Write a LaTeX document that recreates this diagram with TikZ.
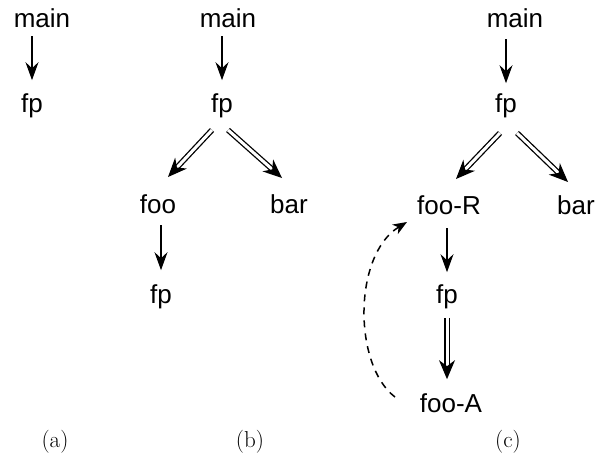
\documentclass[tikz,border=0pt]{standalone}
\usepackage{fontspec}
\newfontfamily\hv{Liberation Sans}
\usetikzlibrary{arrows.meta,calc}
\begin{document}
\begin{tikzpicture}[x=1pt,y=-1pt,
  lbl/.style={font=\hv\fontsize{26}{30}\selectfont, inner sep=0pt, outer sep=0pt, anchor=base},
  sublbl/.style={font=\fontsize{23}{27}\selectfont, inner sep=0pt, anchor=base},
  arr/.style={line width=1.5pt, -{Stealth[length=18pt,width=13pt,inset=6pt]}},
  darr/.style={double, double distance=3pt, line width=1.3pt, -{Stealth[length=19pt,width=16pt,inset=6pt]}},
  back/.style={line width=1.5pt, dash pattern=on 7pt off 6pt, -{Stealth[length=14pt,width=11pt,inset=4pt]}}]
\useasboundingbox (0,0) rectangle (604,458);
% (a)
\node[lbl] (a_main) at (42,27) {main};
\node[lbl] (a_fp) at (32,112) {fp};
% (b)
\node[lbl] (b_main) at (228,27) {main};
\node[lbl] (b_fp) at (222,112) {fp};
\node[lbl] (b_foo) at (158,213) {foo};
\node[lbl] (b_bar) at (289,213) {bar};
\node[lbl] (b_fp2) at (161,303) {fp};
% (c)
\node[lbl] (c_main) at (515,27) {main};
\node[lbl] (c_fp) at (506,112) {fp};
\node[lbl] (c_fooR) at (449,214) {foo-R};
\node[lbl] (c_bar) at (576,214) {bar};
\node[lbl] (c_fp2) at (447,303) {fp};
\node[lbl] (c_fooA) at (451,412) {foo-A};
% captions
\node[sublbl] (sub_a) at (55,447) {(a)};
\node[sublbl] (sub_b) at (250,447) {(b)};
\node[sublbl] (sub_c) at (508,447) {(c)};
% connectors
\draw[arr, shorten <=9pt, shorten >=13pt] (a_fp.north |- a_main.south) -- (a_fp.north);
\draw[arr, shorten <=9pt, shorten >=13pt] (b_fp.north |- b_main.south) -- (b_fp.north);
\draw[arr, shorten <=12pt, shorten >=10pt] (c_fp.north |- c_main.south) -- (c_fp.north);
\draw[darr] ($(b_fp.base)+(-10,18)$) -- ($(b_foo.base)+(10,-36)$);
\draw[darr] ($(b_fp.base)+(6,18)$) -- ($(b_bar.base)+(-7,-35)$);
\draw[arr, shorten <=12pt, shorten >=14pt] (b_fp2.north |- b_foo.south) -- (b_fp2.north);
\draw[darr] ($(c_fp.base)+(-6,21)$) -- ($(c_fooR.base)+(7,-35)$);
\draw[darr] ($(c_fp.base)+(11,21)$) -- ($(c_bar.base)+(-8,-32)$);
\draw[arr, shorten <=14pt, shorten >=12pt] (c_fp2.north |- c_fooR.south) -- (c_fp2.north);
\draw[darr, shorten <=9.5pt, shorten >=14pt] (c_fp2.south) -- (c_fp2.south |- c_fooA.north);
\draw[back] ($(c_fooA.base)+(-56,-15)$) .. controls ($(c_fooA.base)+(-98,-47)$) and ($(c_fooR.base)+(-96,41)$) .. ($(c_fooR.base)+(-42,8)$);
\end{tikzpicture}
\end{document}
